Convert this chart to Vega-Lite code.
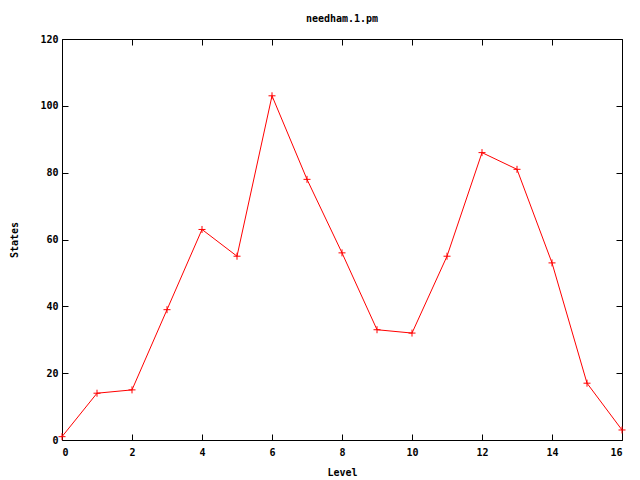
{
  "$schema": "https://vega.github.io/schema/vega-lite/v6.json",
  "width": 560,
  "height": 401,
  "autosize": {"type": "none"},
  "padding": {"left": 62, "top": 39, "right": 18, "bottom": 40},
  "background": "white",
  "title": {"text": "needham.1.pm", "font": "DejaVu Sans Mono", "fontSize": 10, "fontWeight": "bold", "color": "black", "anchor": "middle", "offset": 10},
  "config": {
    "view": {"stroke": "black", "strokeWidth": 1},
    "axis": {"grid": false, "domain": false, "tickColor": "black", "tickSize": -6, "labelFont": "DejaVu Sans Mono", "labelFontSize": 10, "labelFontWeight": "bold", "labelColor": "black", "titleFont": "DejaVu Sans Mono", "titleFontSize": 10, "titleFontWeight": "bold", "titleColor": "black"}
  },
  "data": {"values": [
    {"Level": 0, "States": 1},
    {"Level": 1, "States": 14},
    {"Level": 2, "States": 15},
    {"Level": 3, "States": 39},
    {"Level": 4, "States": 63},
    {"Level": 5, "States": 55},
    {"Level": 6, "States": 103},
    {"Level": 7, "States": 78},
    {"Level": 8, "States": 56},
    {"Level": 9, "States": 33},
    {"Level": 10, "States": 32},
    {"Level": 11, "States": 55},
    {"Level": 12, "States": 86},
    {"Level": 13, "States": 81},
    {"Level": 14, "States": 53},
    {"Level": 15, "States": 17},
    {"Level": 16, "States": 3}
  ]},
  "layer": [
    {
      "mark": {"type": "line", "color": "#ff0000", "strokeWidth": 1},
      "encoding": {
        "x": {"field": "Level", "type": "quantitative", "scale": {"domain": [0, 16], "nice": false, "zero": false}, "axis": {"orient": "bottom", "values": [0,2,4,6,8,10,12,14,16], "labelPadding": 13, "title": "Level", "titlePadding": 10}},
        "y": {"field": "States", "type": "quantitative", "scale": {"domain": [0, 120], "nice": false}, "axis": {"orient": "left", "values": [0,20,40,60,80,100,120], "labelPadding": 10, "title": "States", "titlePadding": 20}}
      }
    },
    {
      "mark": {"type": "point", "shape": "M-1,0L1,0M0,-1L0,1", "filled": false, "color": "#ff0000", "strokeWidth": 1, "size": 49, "opacity": 1},
      "encoding": {
        "x": {"field": "Level", "type": "quantitative", "scale": {"domain": [0, 16], "nice": false, "zero": false}, "axis": {"orient": "top", "values": [0,2,4,6,8,10,12,14,16], "labels": false, "title": null}},
        "y": {"field": "States", "type": "quantitative", "scale": {"domain": [0, 120], "nice": false}, "axis": {"orient": "right", "values": [0,20,40,60,80,100,120], "labels": false, "title": null}}
      }
    }
  ],
  "resolve": {"axis": {"x": "independent", "y": "independent"}}
}
